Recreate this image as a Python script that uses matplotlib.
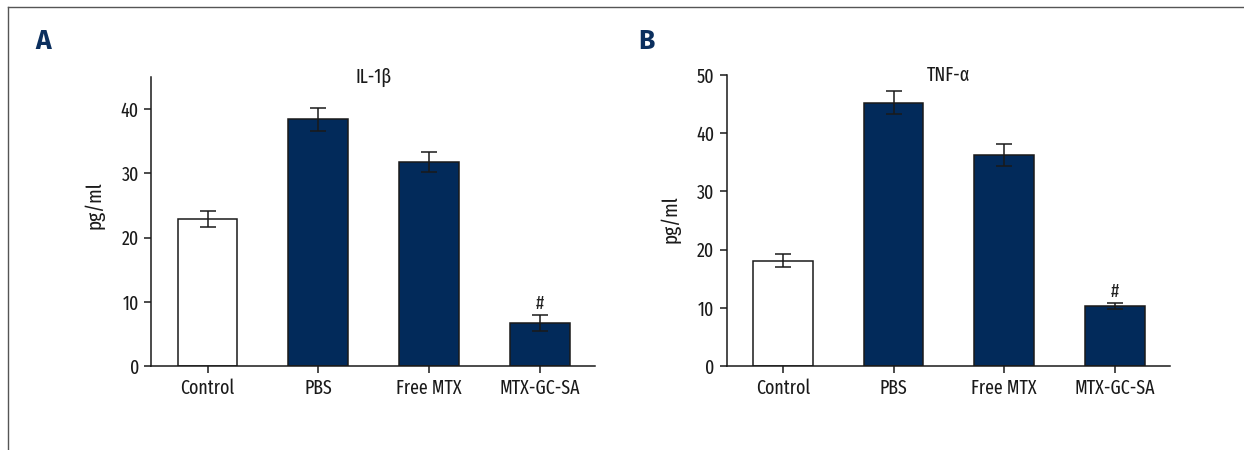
import numpy as np
import matplotlib
matplotlib.use('Agg')
import matplotlib.pyplot as plt
from matplotlib.lines import Line2D

plt.rcParams['font.family'] = ['Fira Sans Extra Condensed', 'PT Sans Narrow', 'DejaVu Sans']

groups = ['Control', 'PBS', 'Free MTX', 'MTX-GC-SA']

il1b_mean = [22.9, 38.4, 31.8, 6.7]
il1b_err = [1.2, 1.8, 1.6, 1.2]

tnfa_mean = [18.1, 45.2, 36.3, 10.3]
tnfa_err = [1.1, 2.0, 1.9, 0.5]

bar_colors = ['white', '#022a5a', '#022a5a', '#022a5a']
navy = '#0b2f5e'
ink = '#1a1a1a'

fig = plt.figure(figsize=(12.44, 4.5), dpi=100)

# thin frame along top and left edge
fig.add_artist(Line2D([0.0064, 1.0], [0.984, 0.984], color='#555555', lw=1))
fig.add_artist(Line2D([0.0064, 0.0064], [0.0, 0.984], color='#555555', lw=1))


def panel(rect, means, errs, title, ymax, yticks, label_y):
    ax = fig.add_axes(rect)
    x = np.arange(len(groups))
    ax.bar(x, means, width=0.54, color=bar_colors, edgecolor=ink, linewidth=1.1, zorder=2)
    ax.errorbar(x, means, yerr=errs, fmt='none', ecolor=ink, elinewidth=1.1,
                capsize=5.8, capthick=1.1, zorder=3)
    # significance mark above the last group
    ax.annotate('#', (x[-1], means[-1] + errs[-1]), xytext=(0, 1.5), textcoords='offset points',
                ha='center', va='bottom', fontsize=13.5, color='#222222')
    ax.set_xlim(-0.507, 3.5)
    ax.set_ylim(0, ymax)
    ax.set_yticks(yticks)
    ax.set_xticks(x)
    ax.set_xticklabels(groups)
    ax.tick_params(axis='both', direction='out', length=5, width=1.1, labelsize=14,
                   colors=ink, pad=4)
    for s in ['top', 'right']:
        ax.spines[s].set_visible(False)
    for s in ['left', 'bottom']:
        ax.spines[s].set_linewidth(1.1)
        ax.spines[s].set_color(ink)
    ax.set_ylabel('pg/ml', fontsize=15, color=ink)
    ax.yaxis.set_label_coords(-0.105, label_y)
    ax.text(0.5, 1.0, title, transform=ax.transAxes, ha='center', va='center',
            fontsize=14, color=ink)
    return ax


axA = panel([0.1217, 0.1867, 0.3566, 0.642], il1b_mean, il1b_err, 'IL-1β', 45,
            [0, 10, 20, 30, 40], 0.557)
axB = panel([0.5841, 0.1867, 0.3567, 0.647], tnfa_mean, tnfa_err, 'TNF-α', 50,
            [0, 10, 20, 30, 40, 50], 0.506)

fig.text(0.0343, 0.909, 'A', fontsize=19, fontweight='bold', color=navy,
         family=['Fira Sans', 'DejaVu Sans'], ha='center', va='center')
fig.text(0.5195, 0.909, 'B', fontsize=19, fontweight='bold', color=navy,
         family=['Fira Sans', 'DejaVu Sans'], ha='center', va='center')

fig.savefig('out.png', dpi=100)
